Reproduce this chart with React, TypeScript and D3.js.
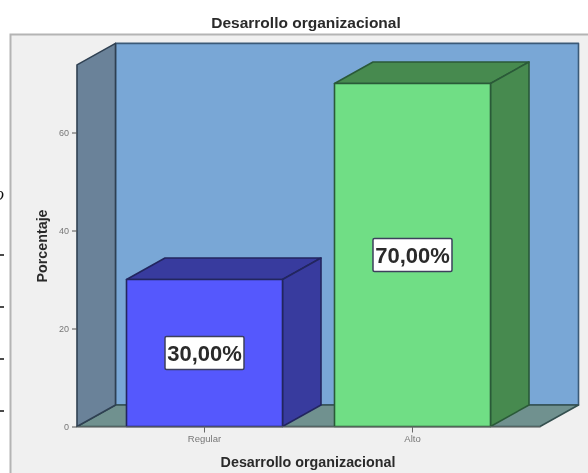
import {useEffect, useRef} from 'react';
import * as d3 from 'd3';

// data
const categories = ['Regular', 'Alto'];
const percentages = [30, 70];
const valueLabels = ['30,00%', '70,00%'];
const yTicks = [0, 20, 40, 60];
const chartTitle = 'Desarrollo organizacional';
const yTitle = 'Porcentaje';
const xTitle = 'Desarrollo organizacional';

// parameters
const width = 588;
const height = 473;
const left = 77;
const right = 540;
const bottom = 426.5;
const depthX = 38.5;
const depthY = 21.5;
const font = '"Liberation Sans", Arial, sans-serif';

const frontColors = ['#5558fd', '#6fde85'];
const sideColors = ['#383b9e', '#478a50'];
const outline = ['#23265f', '#2b5a38'];

export default function App() {
  const ref = useRef<SVGSVGElement>(null);
  useEffect(() => {
    if (!ref.current) return;
    const root = d3.select(ref.current);
    root.selectAll('*').remove();

    const blur = root.append('defs').append('filter').attr('id', 'soft');
    blur.append('feGaussianBlur').attr('stdDeviation', 0.55);

    const svg = root.append('g').attr('filter', 'url(#soft)');

    const x = d3.scaleBand<string>()
      .domain(categories)
      .range([left, right])
      .paddingInner(0.25)
      .paddingOuter(0.238);
    const y = d3.scaleLinear().domain([0, 60]).range([bottom, 132.5]);
    const line = d3.line();

    // chart frame
    svg.append('rect')
      .attr('x', 10.5)
      .attr('y', 34.5)
      .attr('width', width)
      .attr('height', height)
      .attr('fill', '#f0f0f0')
      .attr('stroke', '#b4b4b4')
      .attr('stroke-width', 2);

    // 3d box: floor, side wall, back wall
    const topY = y(73.8);
    const face = (pts: [number, number][], fill: string, stroke: string) => svg.append('path')
      .attr('d', line(pts) + 'Z')
      .attr('fill', fill)
      .attr('stroke', stroke)
      .attr('stroke-width', 1.6)
      .attr('stroke-linejoin', 'round');

    face([[left + depthX, bottom - depthY], [right + depthX, bottom - depthY], [right + depthX, topY - depthY], [left + depthX, topY - depthY]], '#79a7d6', '#3b5a78');
    face([[left, bottom], [left + depthX, bottom - depthY], [right + depthX, bottom - depthY], [right, bottom]], '#6f918f', '#35504f');
    face([[left, bottom], [left, topY], [left + depthX, topY - depthY], [left + depthX, bottom - depthY]], '#6b8299', '#2f4152');

    // bars
    categories.forEach((c, i) => {
      const x0 = x(c)!;
      const x1 = x0 + x.bandwidth();
      const yv = y(percentages[i]);
      face([[x0, yv], [x0 + depthX, yv - depthY], [x1 + depthX, yv - depthY], [x1, yv]], sideColors[i], outline[i]);
      face([[x1, bottom], [x1, yv], [x1 + depthX, yv - depthY], [x1 + depthX, bottom - depthY]], sideColors[i], outline[i]);
      face([[x0, bottom], [x0, yv], [x1, yv], [x1, bottom]], frontColors[i], outline[i]);

      // value label
      const cx = (x0 + x1) / 2;
      const cy = y(percentages[i] / 2);
      svg.append('rect')
        .attr('x', cx - 39.5)
        .attr('y', cy - 16.5)
        .attr('width', 79)
        .attr('height', 33)
        .attr('rx', 1.5)
        .attr('fill', '#ffffff')
        .attr('stroke', '#3c3f5c')
        .attr('stroke-width', 1.5);
      svg.append('text')
        .attr('x', cx)
        .attr('y', cy + 8)
        .attr('text-anchor', 'middle')
        .attr('font-family', font)
        .attr('font-weight', 'bold')
        .attr('font-size', 22)
        .attr('fill', '#2a2a2a')
        .text(valueLabels[i]);
    });

    // axes
    const yAxis = svg.append('g')
      .attr('transform', `translate(${left},0)`)
      .call(d3.axisLeft(y).tickValues(yTicks).tickSize(5).tickSizeOuter(0));
    yAxis.select('.domain').remove();
    yAxis.selectAll('line').attr('stroke', '#555555');
    yAxis.selectAll('text')
      .attr('font-family', font)
      .attr('font-size', 9)
      .attr('fill', '#777777');

    const xAxis = svg.append('g')
      .attr('transform', `translate(0,${bottom})`)
      .call(d3.axisBottom(x).tickSize(6).tickPadding(3).tickSizeOuter(0));
    xAxis.select('.domain').attr('stroke', '#777777');
    xAxis.selectAll('line').attr('stroke', '#666666');
    xAxis.selectAll('text')
      .attr('font-family', font)
      .attr('font-size', 9.5)
      .attr('fill', '#777777');

    // titles
    const title = (text: string, tx: number, ty: number, size: number, rotate = 0) => svg.append('text')
      .attr('transform', `translate(${tx},${ty}) rotate(${rotate})`)
      .attr('text-anchor', 'middle')
      .attr('font-family', font)
      .attr('font-weight', 'bold')
      .attr('font-size', size)
      .attr('fill', '#2a2a2a')
      .text(text);
    title(chartTitle, 306, 28, 15.5);
    title(xTitle, 308, 467, 14.3);
    title(yTitle, 47, 246, 14.3, -90);

    // leftovers of the page the chart was cropped from
    svg.append('text')
      .attr('x', -5)
      .attr('y', 200)
      .attr('font-family', '"Liberation Serif", serif')
      .attr('font-style', 'italic')
      .attr('font-size', 18)
      .attr('fill', '#111111')
      .text('o');
    [255, 307, 359, 411].forEach(ty => {
      svg.append('rect')
        .attr('x', 0)
        .attr('y', ty - 0.75)
        .attr('width', 4)
        .attr('height', 1.5)
        .attr('fill', '#111111');
    });
  }, []);
  return <svg
    ref={ref}
    width={width}
    height={height}
    style={{position: 'absolute', left: 0, top: 0, background: '#ffffff'}}
  />;
}
